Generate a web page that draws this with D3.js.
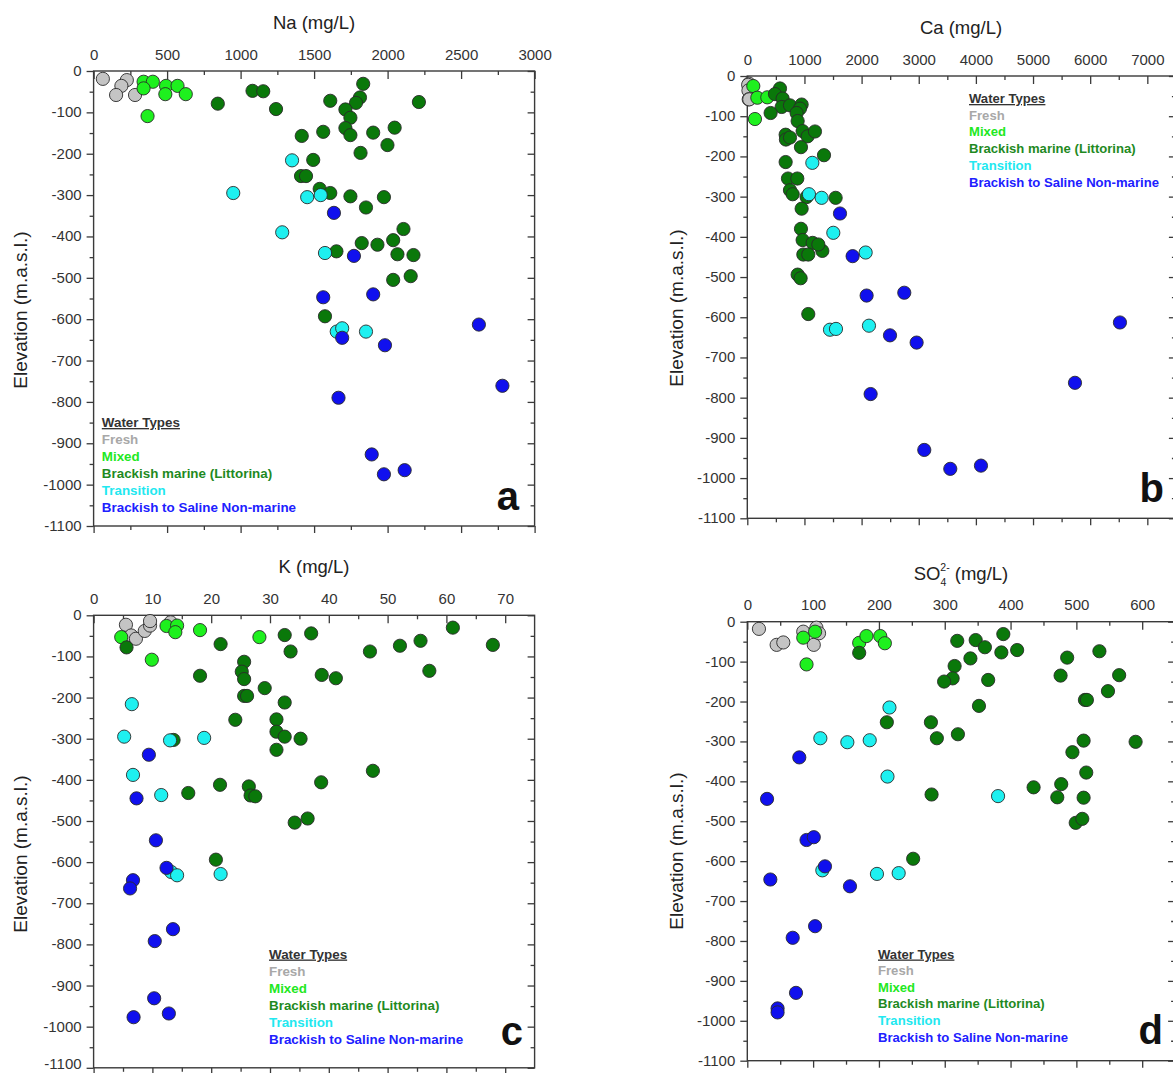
<!DOCTYPE html>
<html>
<head>
<meta charset="utf-8">
<script src="https://cdn.jsdelivr.net/npm/d3@7"></script>
<style>
  html, body { margin: 0; padding: 0; background: #fff; }
  svg { display: block; }
  text { font-family: "Liberation Sans", Arial, sans-serif; }
</style>
</head>
<body>
<svg id="chart" width="1173" height="1073"></svg>
<script>
// Water types shared by all four panels
const waterTypes = ["Fresh", "Mixed", "Brackish marine (Littorina)", "Transition", "Brackish to Saline Non-marine"];
const typeFill   = ["#c4c4c4", "#1ef01e", "#0a780a", "#1ef0f0", "#1010ee"];
const typeText   = ["#a8a8a8", "#22e822", "#1f8a1f", "#22e8f0", "#2020ff"];

// Elevation axis (m.a.s.l.)
const elevMajor = d3.range(0, -1101, -100);
const elevMinor = d3.range(-50, -1100, -100);

// ---- Na (mg/L) vs elevation ----
const naFresh = [[63,-19],[226,-22],[189,-36],[153,-58],[282,-58]];
const naMixed = [[340,-26],[403,-26],[340,-42],[493,-36],[488,-56],[571,-36],[627,-56],[367,-109]];
const naMarine = [[845,-79],[1081,-48],[1154,-49],[1241,-92],[1610,-72],[1834,-31],[1812,-64],[1785,-77],[1713,-93],[1747,-113],[2213,-75],[1416,-157],[1562,-147],[1713,-138],[1747,-155],[1902,-149],[2048,-137],[1999,-179],[1816,-198],[1494,-215],[1411,-254],[1445,-254],[1538,-285],[1610,-295],[1747,-303],[1975,-305],[1853,-330],[2108,-382],[2038,-409],[1824,-416],[1931,-420],[1652,-436],[2067,-443],[2176,-445],[2038,-505],[2157,-496],[1574,-593]];
const naTransition = [[1350,-216],[950,-295],[1453,-305],[1545,-300],[1283,-390],[1574,-440],[1654,-630],[1691,-622],[1853,-630]];
const naSaline = [[1635,-343],[1771,-447],[1562,-547],[1902,-540],[1691,-645],[1982,-663],[2621,-613],[2781,-761],[1666,-790],[1892,-927],[1975,-975],[2116,-965]];
const naTicks = d3.range(0, 3001, 500);

// ---- Ca (mg/L) vs elevation ----
const caFresh = [[30,-19],[15,-22],[20,-36],[25,-58],[35,-58]];
const caMixed = [[105,-25],[175,-54],[350,-53],[134,-107]];
const caMarine = [[572,-31],[484,-45],[618,-56],[601,-77],[408,-92],[747,-73],[951,-71],[922,-81],[863,-92],[881,-112],[968,-137],[1056,-150],[1184,-138],[671,-146],[676,-158],[747,-153],[939,-177],[1342,-197],[671,-214],[712,-255],[875,-255],[747,-284],[794,-294],[1038,-301],[1546,-303],[951,-330],[939,-380],[968,-408],[1143,-415],[1313,-435],[1243,-419],[980,-444],[1067,-444],[881,-494],[933,-503],[1067,-592]];
const caTransition = [[1138,-216],[1079,-294],[1301,-303],[1505,-390],[2071,-439],[1447,-631],[1552,-629],[2129,-621]];
const caSaline = [[1622,-342],[1843,-448],[2088,-546],[2747,-539],[2497,-645],[2963,-663],[6521,-613],[5734,-763],[2158,-791],[3097,-930],[3552,-977],[4089,-969]];
const caTicks = d3.range(0, 7001, 1000);

// ---- K (mg/L) vs elevation ----
const kFresh = [[5.5,-23],[6.4,-49],[7.2,-57],[8.7,-38],[9.6,-25],[9.6,-14],[13.1,-17]];
const kMixed = [[4.7,-53],[12.4,-26],[14.2,-25],[13.9,-41],[18.1,-36],[28.2,-53],[9.9,-108]];
const kMarine = [[5.6,-78],[21.6,-70],[32.5,-48],[37.0,-44],[33.5,-88],[47.0,-88],[52.1,-74],[55.6,-62],[61.1,-30],[67.9,-72],[57.1,-135],[25.6,-113],[25.2,-137],[25.6,-155],[18.1,-147],[38.8,-145],[41.2,-153],[29.1,-177],[25.6,-196],[26.1,-196],[32.5,-212],[24.1,-254],[31.1,-253],[31.1,-283],[32.5,-295],[35.2,-300],[31.1,-327],[13.6,-303],[47.5,-378],[38.7,-406],[21.5,-412],[26.4,-416],[26.7,-438],[27.5,-440],[16.1,-432],[34.2,-504],[36.4,-494],[20.8,-594]];
const kTransition = [[6.5,-216],[5.2,-295],[13.0,-304],[18.8,-298],[6.7,-388],[11.5,-437],[13.2,-624],[14.2,-632],[21.6,-629]];
const kSaline = [[9.4,-339],[7.3,-445],[10.6,-547],[12.4,-614],[6.7,-644],[6.2,-664],[13.5,-763],[10.4,-792],[10.3,-931],[12.8,-968],[6.8,-977]];
const kTicks = d3.range(0, 71, 10);

// ---- SO4 (mg/L) vs elevation ----
const so4Fresh = [[17.7,-18],[44.6,-58],[54.7,-52],[85,-25],[101,-58],[105,-15],[109,-29]];
const so4Mixed = [[85,-40],[103,-25],[170,-53],[181,-36],[202,-36],[209,-54],[90,-107]];
const so4Marine = [[170,-78],[319,-48],[347,-46],[361,-64],[389,-31],[386,-77],[410,-71],[339,-92],[315,-111],[312,-142],[299,-150],[366,-146],[352,-211],[486,-90],[476,-135],[535,-74],[565,-134],[548,-174],[513,-196],[516,-196],[212,-252],[279,-252],[288,-292],[320,-282],[511,-298],[590,-301],[494,-327],[515,-378],[435,-415],[477,-407],[471,-440],[511,-441],[280,-433],[499,-504],[509,-494],[252,-594]];
const so4Transition = [[216,-215],[111,-292],[152,-302],[186,-297],[213,-388],[381,-437],[114,-623],[197,-632],[230,-630]];
const so4Saline = [[79,-340],[30,-444],[90,-547],[101,-540],[118,-613],[35,-646],[156,-663],[103,-763],[69,-792],[74,-930],[46,-969],[46,-979]];
const so4Ticks = d3.range(0, 601, 100);

// Panel layout
const panels = [
  { letter: "a", title: "Na", series: [naFresh, naMixed, naMarine, naTransition, naSaline],
    ticks: naTicks, xMax: 3000, left: 93.6, right: 534.6, top: 71, bottom: 526,
    legend: [101.8, 427, 17, 13.4], letterPos: [519, 510], yTitle: [27, 310], titleX: 314 },
  { letter: "b", title: "Ca", series: [caFresh, caMixed, caMarine, caTransition, caSaline],
    ticks: caTicks, xMax: 7500, left: 747.3, right: 1175.9, top: 76, bottom: 518.3,
    legend: [969, 103, 16.7, 13.1], letterPos: [1164, 502], yTitle: [683, 308], titleX: 961 },
  { letter: "c", title: "K", series: [kFresh, kMixed, kMarine, kTransition, kSaline],
    ticks: kTicks, xMax: 75, left: 93.6, right: 534.6, top: 615.3, bottom: 1067.8,
    legend: [269, 958.5, 17, 13.4], letterPos: [523, 1045], yTitle: [27, 854], titleX: 314 },
  { letter: "d", title: "SO4", series: [so4Fresh, so4Mixed, so4Marine, so4Transition, so4Saline],
    ticks: so4Ticks, xMax: 650, left: 747.3, right: 1175.1, top: 621.7, bottom: 1060.7,
    legend: [878, 958.5, 16.6, 13.1], letterPos: [1163, 1043.5], yTitle: [683, 851], titleX: 961 }
];

const svg = d3.select("#chart");
const svgHeight = +svg.attr("height");
const axisColor = "#3a3a3a";
const fmt = d => String(d);

panels.forEach(p => {
  const x = d3.scaleLinear().domain([0, p.xMax]).range([p.left, p.right]);
  const y = d3.scaleLinear().domain([0, -1100]).range([p.top, p.bottom]);
  const step = p.ticks[1] - p.ticks[0];
  const xMinor = d3.range(step / 2, p.xMax - 1e-9, step);

  const g = svg.append("g");

  // frame
  g.append("rect")
    .attr("x", p.left).attr("y", p.top)
    .attr("width", p.right - p.left).attr("height", p.bottom - p.top)
    .attr("fill", "none").attr("stroke", axisColor).attr("stroke-width", 1.4);

  const styleAxis = sel => {
    sel.select(".domain").remove();
    sel.selectAll(".tick line").attr("stroke", axisColor).attr("stroke-width", 1.3);
    sel.selectAll(".tick text").attr("fill", "#333").attr("font-size", 15)
      .attr("font-family", "'Liberation Sans', Arial, sans-serif");
  };

  // top axis (labelled, ticks inward)
  g.append("g").attr("transform", `translate(0,${p.top})`)
    .call(d3.axisTop(x).tickValues(p.ticks).tickSize(-8).tickPadding(11.5).tickFormat(fmt))
    .call(styleAxis);
  g.append("g").attr("transform", `translate(0,${p.top})`)
    .call(d3.axisTop(x).tickValues(xMinor).tickSize(-4).tickFormat(""))
    .call(styleAxis);

  // bottom axis (ticks outward)
  g.append("g").attr("transform", `translate(0,${p.bottom})`)
    .call(d3.axisBottom(x).tickValues(p.ticks).tickSize(7).tickFormat(""))
    .call(styleAxis);
  g.append("g").attr("transform", `translate(0,${p.bottom})`)
    .call(d3.axisBottom(x).tickValues(xMinor).tickSize(4).tickFormat(""))
    .call(styleAxis);

  // left axis (labelled, ticks outward); a label on the lower page edge is lifted to stay inside
  g.append("g").attr("transform", `translate(${p.left},0)`)
    .call(d3.axisLeft(y).tickValues(elevMajor).tickSize(7).tickPadding(5).tickFormat(fmt))
    .call(styleAxis)
    .call(sel => sel.selectAll(".tick text")
      .attr("dy", d => (y(d) + 8 > svgHeight ? "0.05em" : "0.3em")));
  g.append("g").attr("transform", `translate(${p.left},0)`)
    .call(d3.axisLeft(y).tickValues(elevMinor).tickSize(4).tickFormat(""))
    .call(styleAxis);

  // right axis (ticks inward)
  g.append("g").attr("transform", `translate(${p.right},0)`)
    .call(d3.axisRight(y).tickValues(elevMajor).tickSize(-7).tickFormat(""))
    .call(styleAxis);
  g.append("g").attr("transform", `translate(${p.right},0)`)
    .call(d3.axisRight(y).tickValues(elevMinor).tickSize(-4).tickFormat(""))
    .call(styleAxis);

  // x axis title
  const t = g.append("text")
    .attr("x", p.titleX)
    .attr("y", p.top - 42)
    .attr("text-anchor", "middle")
    .attr("font-size", 18.5).attr("fill", "#222");
  if (p.title === "SO4") {
    t.append("tspan").text("SO");
    t.append("tspan").attr("font-size", 10.5).attr("dy", 6).text("4");
    t.append("tspan").attr("font-size", 10.5).attr("dx", -6).attr("dy", -15).text("2-");
    t.append("tspan").attr("dy", 9).text(" (mg/L)");
  } else {
    t.text(`${p.title} (mg/L)`);
  }

  // y axis title
  g.append("text")
    .attr("transform", `translate(${p.yTitle[0]},${p.yTitle[1]}) rotate(-90)`)
    .attr("text-anchor", "middle")
    .attr("font-size", 19).attr("fill", "#222")
    .text("Elevation (m.a.s.l.)");

  // points, one layer per water type
  const clipId = `clip-${p.letter}`;
  svg.append("clipPath").attr("id", clipId)
    .append("rect").attr("x", 0).attr("y", p.top - 10).attr("width", 1173).attr("height", p.bottom - p.top + 20);
  p.series.forEach((pts, i) => {
    g.append("g").attr("clip-path", `url(#${clipId})`)
      .selectAll("circle").data(pts).join("circle")
      .attr("cx", d => x(d[0])).attr("cy", d => y(d[1]))
      .attr("r", 6.6)
      .attr("fill", typeFill[i])
      .attr("stroke", "#2a2a2a").attr("stroke-width", 0.9);
  });

  // legend
  const [lx, ly, ls, lf] = p.legend;
  const lg = g.append("g").attr("font-size", lf).attr("font-weight", "bold");
  lg.append("text").attr("x", lx).attr("y", ly)
    .attr("fill", "#333").attr("text-decoration", "underline")
    .text("Water Types");
  waterTypes.forEach((name, i) => {
    lg.append("text").attr("x", lx).attr("y", ly + ls * (i + 1))
      .attr("fill", typeText[i]).text(name);
  });

  // panel letter
  g.append("text")
    .attr("x", p.letterPos[0]).attr("y", p.letterPos[1])
    .attr("text-anchor", "end")
    .attr("font-size", 40).attr("font-weight", "bold").attr("fill", "#111")
    .text(p.letter);
});
</script>
</body>
</html>
